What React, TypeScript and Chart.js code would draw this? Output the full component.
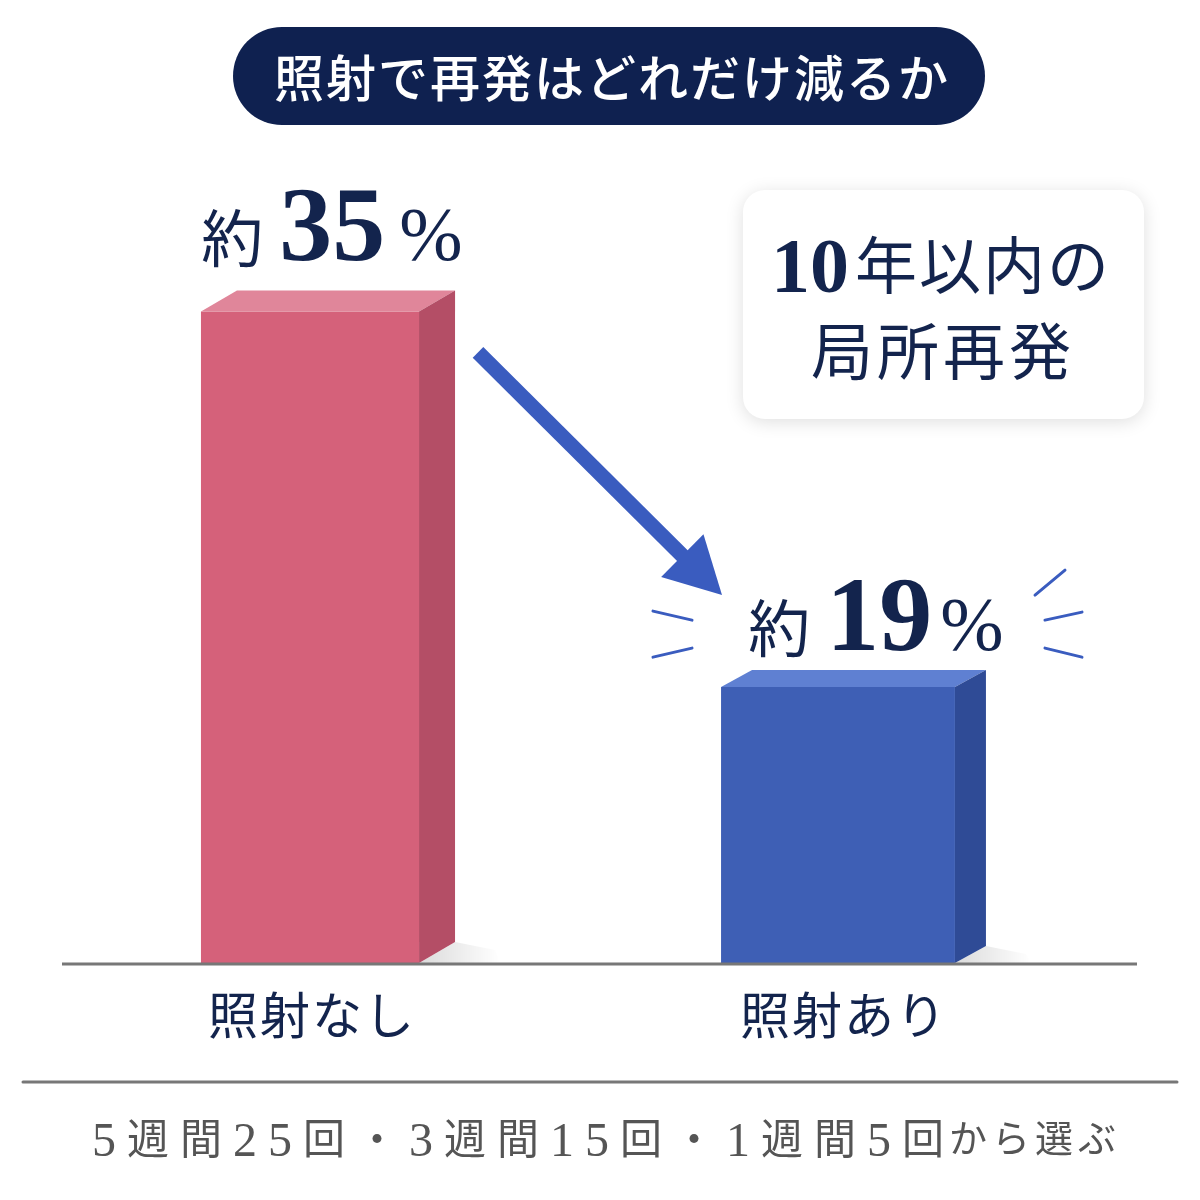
import React, { useEffect, useRef } from "react";
import { Chart, registerables } from "chart.js";

Chart.register(...registerables);

const categories = ["照射なし", "照射あり"];
const values = [35, 19];
const valueLabels = ["35", "19"];
const titleText = "照射で再発はどれだけ減るか";
const noteLines = ["10年以内の", "局所再発"];
const footerMain = "5週間25回・3週間15回・1週間5回";
const footerTail = "から選ぶ";

const NAVY = "#13244d";
const SERIF = "'Liberation Serif', 'DejaVu Serif', serif";
const JP = "'Noto Sans CJK JP', 'Noto Sans', sans-serif";

const faces = [
  { front: "#d5617a", top: "#e0869a", side: "#b44e66", dx: 36, dy: 21 },
  { front: "#3e5fb5", top: "#5f80d2", side: "#2f4b96", dx: 31, dy: 17 },
];

function roundRect(ctx: CanvasRenderingContext2D, x: number, y: number, w: number, h: number, r: number) {
  ctx.beginPath();
  ctx.moveTo(x + r, y);
  ctx.lineTo(x + w - r, y);
  ctx.arcTo(x + w, y, x + w, y + r, r);
  ctx.lineTo(x + w, y + h - r);
  ctx.arcTo(x + w, y + h, x + w - r, y + h, r);
  ctx.lineTo(x + r, y + h);
  ctx.arcTo(x, y + h, x, y + h - r, r);
  ctx.lineTo(x, y + r);
  ctx.arcTo(x, y, x + r, y, r);
  ctx.closePath();
}

const decorPlugin = {
  id: "decor",
  beforeDatasetsDraw(chart: any) {
    const ctx: CanvasRenderingContext2D = chart.ctx;
    const area = chart.chartArea;
    ctx.save();
    // title pill
    ctx.fillStyle = "#0f2150";
    roundRect(ctx, 233, 27, 752, 98, 49);
    ctx.fill();
    ctx.fillStyle = "#ffffff";
    ctx.font = `500 50px ${JP}`;
    ctx.textAlign = "center";
    ctx.textBaseline = "middle";
    (ctx as any).letterSpacing = "2px";
    ctx.fillText(titleText, 612, 78);
    (ctx as any).letterSpacing = "0px";

    // note box
    ctx.save();
    ctx.shadowColor = "rgba(0,0,0,0.13)";
    ctx.shadowBlur = 18;
    ctx.shadowOffsetY = 3;
    ctx.fillStyle = "#ffffff";
    roundRect(ctx, 743, 190, 401, 229, 22);
    ctx.fill();
    ctx.restore();

    // note text line 1: serif digits + CJK
    ctx.fillStyle = NAVY;
    ctx.textBaseline = "alphabetic";
    ctx.textAlign = "left";
    const digits = noteLines[0].slice(0, 2);
    const rest = noteLines[0].slice(2);
    ctx.font = `bold 78px ${SERIF}`;
    const dW = ctx.measureText(digits).width;
    ctx.font = `400 62px ${JP}`;
    (ctx as any).letterSpacing = "2px";
    const rW = ctx.measureText(rest).width;
    const total = dW + 6 + rW;
    const x0 = 941 - total / 2;
    ctx.font = `bold 78px ${SERIF}`;
    (ctx as any).letterSpacing = "0px";
    ctx.fillText(digits, x0, 292);
    ctx.font = `400 62px ${JP}`;
    (ctx as any).letterSpacing = "2px";
    ctx.fillText(rest, x0 + dW + 6, 289);
    ctx.textAlign = "center";
    (ctx as any).letterSpacing = "4px";
    ctx.fillText(noteLines[1], 943, 375);
    (ctx as any).letterSpacing = "0px";

    // soft ground shadows beside bars
    chart.data.datasets.forEach((ds: any, di: number) => {
      const meta = chart.getDatasetMeta(di);
      meta.data.forEach((el: any, i: number) => {
        if (ds.data[i] == null) return;
        const f = faces[di];
        const right = el.x + el.width / 2 + f.dx;
        const base = area.bottom;
        const g = ctx.createLinearGradient(right - f.dx, 0, right + 45, 0);
        g.addColorStop(0, "rgba(0,0,0,0.14)");
        g.addColorStop(1, "rgba(0,0,0,0)");
        ctx.fillStyle = g;
        ctx.beginPath();
        ctx.moveTo(right - f.dx, base);
        ctx.lineTo(right, base - f.dy);
        ctx.lineTo(right + 40, base - f.dy + 8);
        ctx.lineTo(right + 45, base);
        ctx.closePath();
        ctx.fill();
      });
    });
    ctx.restore();
  },
  afterDatasetsDraw(chart: any) {
    const ctx: CanvasRenderingContext2D = chart.ctx;
    const area = chart.chartArea;
    const xs = chart.scales.x;
    ctx.save();
    const bars: any[] = [];
    chart.data.datasets.forEach((ds: any, di: number) => {
      const meta = chart.getDatasetMeta(di);
      meta.data.forEach((el: any, i: number) => {
        if (ds.data[i] == null) return;
        const f = faces[di];
        const l = el.x - el.width / 2;
        const r = el.x + el.width / 2;
        const t = el.y;
        const b = Math.min(el.base, area.bottom);
        // top face
        ctx.fillStyle = f.top;
        ctx.beginPath();
        ctx.moveTo(l, t);
        ctx.lineTo(l + f.dx, t - f.dy);
        ctx.lineTo(r + f.dx, t - f.dy);
        ctx.lineTo(r, t);
        ctx.closePath();
        ctx.fill();
        // side face
        ctx.fillStyle = f.side;
        ctx.beginPath();
        ctx.moveTo(r, t);
        ctx.lineTo(r + f.dx, t - f.dy);
        ctx.lineTo(r + f.dx, b - f.dy);
        ctx.lineTo(r, b);
        ctx.closePath();
        ctx.fill();
        bars[i] = { x: el.x, l, r, t, b, f };
      });
    });

    // baseline
    ctx.strokeStyle = "#777777";
    ctx.lineWidth = 3;
    ctx.beginPath();
    ctx.moveTo(62, area.bottom + 1);
    ctx.lineTo(1137, area.bottom + 1);
    ctx.stroke();

    // value labels
    const labelShift = [22, 38];
    bars.forEach((bar, i) => {
      if (!bar) return;
      ctx.fillStyle = NAVY;
      ctx.textBaseline = "alphabetic";
      ctx.textAlign = "left";
      ctx.font = `400 62px ${JP}`;
      const w1 = ctx.measureText("約").width;
      ctx.font = `bold 106px ${SERIF}`;
      const w2 = ctx.measureText(valueLabels[i]).width;
      ctx.font = `400 76px ${SERIF}`;
      const w3 = ctx.measureText("%").width;
      const gap1 = 16, gap2 = i === 0 ? 14 : 8;
      const tot = w1 + gap1 + w2 + gap2 + w3;
      const cx = bar.x + labelShift[i];
      const by = bar.t - (i === 0 ? 51 : 37);
      let x = cx - tot / 2;
      ctx.font = `400 62px ${JP}`;
      ctx.fillText("約", x, by + 2);
      x += w1 + gap1;
      ctx.font = `bold 106px ${SERIF}`;
      ctx.fillText(valueLabels[i], x, by);
      x += w2 + gap2;
      ctx.font = `400 76px ${SERIF}`;
      ctx.fillText("%", x, by);
    });

    // category labels
    ctx.fillStyle = NAVY;
    ctx.font = `400 50px ${JP}`;
    ctx.textAlign = "center";
    ctx.textBaseline = "middle";
    (ctx as any).letterSpacing = "2px";
    categories.forEach((c, i) => {
      const px = xs.getPixelForValue(i);
      ctx.fillText(c, px + (i === 0 ? 2 : 6), area.bottom + 52);
    });
    (ctx as any).letterSpacing = "0px";

    // arrow from bar 0 to bar 1
    const ARROW = "#3a5cbf";
    if (bars[0] && bars[1]) {
      const sx = bars[0].x + 168, sy = bars[0].t + 41;
      const tx = bars[1].x - 116, ty = bars[1].t - 92;
      const ang = Math.atan2(ty - sy, tx - sx);
      const headLen = 56;
      const headHalf = 30;
      const bx = tx - Math.cos(ang) * headLen, byy = ty - Math.sin(ang) * headLen;
      ctx.strokeStyle = ARROW;
      ctx.lineWidth = 15;
      ctx.lineCap = "butt";
      ctx.beginPath();
      ctx.moveTo(sx, sy);
      ctx.lineTo(bx + Math.cos(ang) * 4, byy + Math.sin(ang) * 4);
      ctx.stroke();
      ctx.fillStyle = ARROW;
      ctx.beginPath();
      ctx.moveTo(tx, ty);
      ctx.lineTo(bx + Math.cos(ang + Math.PI / 2) * headHalf, byy + Math.sin(ang + Math.PI / 2) * headHalf);
      ctx.lineTo(bx - Math.cos(ang + Math.PI / 2) * headHalf, byy - Math.sin(ang + Math.PI / 2) * headHalf);
      ctx.closePath();
      ctx.fill();

      // burst lines around second label
      const bxc = bars[1].x, byc = bars[1].t;
      const lines = [
        [-185, -76, -146, -67],
        [-185, -30, -146, -39],
        [197, -92, 227, -117],
        [207, -67, 244, -75],
        [207, -39, 244, -30],
      ];
      ctx.lineWidth = 3;
      ctx.lineCap = "round";
      lines.forEach(([a, b, c, d]) => {
        ctx.beginPath();
        ctx.moveTo(bxc + a, byc + b);
        ctx.lineTo(bxc + c, byc + d);
        ctx.stroke();
      });
    }

    // footer separator
    ctx.strokeStyle = "#777777";
    ctx.lineWidth = 3;
    ctx.beginPath();
    ctx.moveTo(23, 1082);
    ctx.lineTo(1177, 1082);
    ctx.stroke();

    // footer text
    ctx.fillStyle = "#555555";
    ctx.textAlign = "left";
    ctx.textBaseline = "alphabetic";
    let fx = 92;
    const fy = 1156;
    (ctx as any).letterSpacing = "11px";
    for (const ch of footerMain) {
      if (/[0-9]/.test(ch)) {
        ctx.font = `400 48px ${SERIF}`;
        ctx.fillText(ch, fx, fy);
        fx += ctx.measureText(ch).width;
      } else {
        ctx.font = `400 42px ${JP}`;
        ctx.fillText(ch, fx, fy - 2);
        fx += ctx.measureText(ch).width;
      }
    }
    ctx.font = `400 38px ${JP}`;
    (ctx as any).letterSpacing = "5px";
    ctx.fillText(footerTail, fx - 6, fy - 4);
    (ctx as any).letterSpacing = "0px";
    ctx.restore();
  },
};

export default function App() {
  const ref = useRef<HTMLCanvasElement | null>(null);
  useEffect(() => {
    document.body.style.margin = "0";
    const canvas = ref.current;
    if (!canvas) return;
    const chart = new Chart(canvas, {
      type: "bar",
      data: {
        labels: categories,
        datasets: [
          {
            data: [values[0], null],
            backgroundColor: faces[0].front,
            barPercentage: 0.413,
            categoryPercentage: 1,
            grouped: false,
            borderWidth: 0,
          } as any,
          {
            data: [null, values[1]],
            backgroundColor: faces[1].front,
            barPercentage: 0.443,
            categoryPercentage: 1,
            grouped: false,
            borderWidth: 0,
          } as any,
        ],
      },
      options: {
        responsive: false,
        animation: false,
        devicePixelRatio: 1,
        layout: { padding: { left: 46, right: 98, top: 140, bottom: 237 } },
        plugins: { legend: { display: false }, tooltip: { enabled: false } },
        scales: {
          x: { display: false, grid: { display: false } },
          y: { display: false, min: 7.25, max: 42.3, grid: { display: false } },
        },
      },
      plugins: [decorPlugin],
    });
    return () => chart.destroy();
  }, []);
  return (
    <div style={{ width: 1200, height: 1200, background: "#ffffff", position: "relative" }}>
      <canvas ref={ref} width={1200} height={1200} style={{ display: "block" }} />
    </div>
  );
}
